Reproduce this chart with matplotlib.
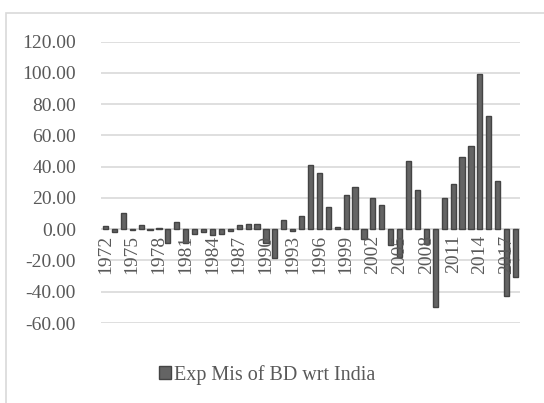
import matplotlib.pyplot as plt
from matplotlib.patches import Rectangle

plt.rcParams['font.family'] = ['Liberation Serif', 'DejaVu Serif']

# 年份與數值
years = list(range(1972, 2019))
values = [
    2, -2, 10.5, -0.5, 3, -0.5, 0.5, -8.5, 4.5, -8.5,
    -3, -2, -3.8, -2.8, -1, 2.8, 3.6, 3.2, -8.5, -18.7,
    6, -1, 8.5, 41, 36, 14.5, 1.3, 22, 27, -6,
    19.7, 15.2, -10.3, -18, 43.4, 25, -9.6, -50, 19.8, 29,
    46.4, 53.5, 99.5, 72.3, 30.8, -42.5, -30.8,
]
y_ticks = [-60, -40, -20, 0, 20, 40, 60, 80, 100, 120]
series_name = "Exp Mis of BD wrt India"

text_color = '#595959'
grid_color = '#d9d9d9'

fig = plt.figure(figsize=(5.44, 4.03), dpi=100)
ax = fig.add_axes([101 / 544, 80 / 403, 419 / 544, 281.3 / 403])

# 外框（上、左）
fig.add_artist(Rectangle((6 / 544, -0.1), 1.2, (403 - 13) / 403 + 0.1,
                         transform=fig.transFigure, fill=False,
                         edgecolor=grid_color, linewidth=1.2))

x = list(range(len(years)))
ax.axhline(0, color=grid_color, linewidth=1.2, zorder=1)
bars = ax.bar(x, values, width=0.58, color='#646464', edgecolor='#444444',
              linewidth=1.0, zorder=2, label=series_name)

ax.set_xlim(-0.5, len(years) - 0.5)
ax.set_ylim(-60, 120)
ax.set_yticks(y_ticks)
ax.set_yticklabels([f"{v:.2f}" for v in y_ticks], fontsize=14, color=text_color)
ax.tick_params(axis='y', length=0, pad=18)
ax.set_xticks([])
ax.yaxis.grid(True, color=grid_color, linewidth=1.2)
ax.set_axisbelow(True)
for s in ax.spines.values():
    s.set_visible(False)

# 年份標籤，每三年一個，貼著零軸
for i in range(0, len(years), 3):
    ax.text(i, -3.5, str(years[i]), rotation=90, ha='center', va='top',
            fontsize=14, color=text_color, zorder=3)

leg = fig.legend(handles=[bars], labels=[series_name], loc='center',
                 bbox_to_anchor=(267 / 544, (403 - 375) / 403), frameon=False,
                 fontsize=14.5, handlelength=0.6, handleheight=0.6,
                 handletextpad=0.15)
for t in leg.get_texts():
    t.set_color(text_color)

fig.savefig('out.png', dpi=100)
